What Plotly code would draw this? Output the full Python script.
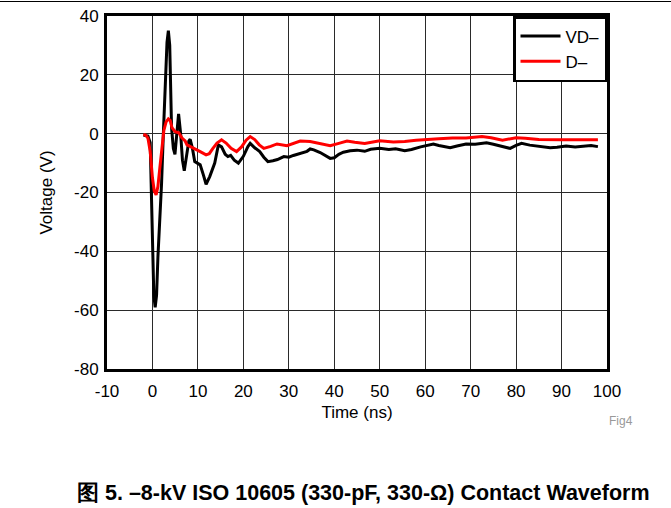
import plotly.graph_objects as go

# VD- (black)
t_vd = [-2.0, -1.0, -0.5, -0.2, 0.0, 0.3, 0.6, 0.9, 1.2, 1.6, 2.0, 2.4, 2.8, 3.2, 3.5, 3.8,
        4.2, 4.6, 4.95, 5.3, 5.75, 6.2, 6.6, 7.0, 7.5, 8.0, 8.3, 8.8, 9.3, 10.0, 10.5, 11.2,
        11.8, 12.6, 13.7, 14.5, 15.2, 16.0, 16.6, 17.2, 18.0, 18.9, 20.0, 21.0, 21.5, 22.5,
        23.6, 24.5, 25.4, 26.5, 27.5, 28.9, 30.0, 31.0, 31.8, 33.0, 34.0, 34.7, 35.5, 36.9,
        38.0, 39.1, 40.0, 41.0, 42.0, 42.8, 43.5, 45.0, 46.7, 48.0, 50.0, 52.0, 53.5, 55.5,
        57.0, 59.0, 60.5, 61.8, 63.0, 65.5, 67.0, 69.0, 71.0, 72.5, 73.5, 75.0, 77.0, 78.7,
        80.0, 81.2, 83.0, 85.0, 87.5, 89.0, 91.0, 93.0, 95.0, 96.5, 98.0]
v_vd = [-0.5, -0.8, -3.0, -20.0, -40.0, -55.0, -59.0, -55.0, -42.0, -31.0, -17.0, 0.0, 18.0, 31.0, 35.0, 30.0,
        2.0, -5.0, -7.0, -1.0, 6.7, 0.0, -9.0, -12.6, -8.0, -2.5, -1.9, -5.0, -9.5, -10.0, -10.6, -14.0,
        -17.2, -14.6, -10.0, -3.8, -4.5, -7.0, -7.8, -7.4, -9.0, -10.0, -7.7, -4.4, -3.3, -4.8,
        -6.1, -8.0, -9.5, -9.2, -8.8, -7.8, -8.0, -7.4, -7.0, -6.6, -6.0, -5.2, -5.5, -6.4,
        -7.5, -8.4, -8.2, -7.0, -6.3, -5.9, -5.8, -5.6, -6.0, -5.3, -5.0, -5.4, -5.1, -5.8,
        -5.4, -4.5, -4.0, -3.5, -4.0, -4.8, -4.2, -3.5, -3.6, -3.3, -3.1, -3.6, -4.5, -5.0,
        -4.0, -3.3, -3.9, -4.3, -4.8, -4.6, -4.2, -4.5, -4.3, -4.0, -4.4]

# D- (red)
t_d = [-2.0, -1.5, -1.0, -0.5, 0.0, 0.4, 0.8, 1.2, 1.6, 2.0, 2.5, 3.0, 3.5, 3.9, 4.3, 5.0,
       5.8, 6.5, 7.2, 7.6, 8.5, 9.5, 10.5, 11.8, 12.5, 13.3, 14.2, 15.2, 16.2, 17.3, 18.5,
       19.6, 20.6, 21.5, 22.5, 23.5, 24.5, 26.0, 27.4, 29.6, 31.0, 32.5, 34.7, 36.5, 39.1,
       41.0, 42.8, 44.5, 46.7, 48.5, 50.0, 53.0, 55.5, 58.0, 60.0, 63.0, 66.0, 69.0, 72.5,
       74.5, 77.0, 80.0, 82.0, 85.0, 90.0, 95.0, 98.0]
v_d = [-0.3, -0.5, -1.5, -6.0, -15.0, -19.5, -20.8, -18.0, -12.0, -5.0, 1.0, 4.0, 5.0, 4.5, 2.0, 0.7,
       0.3, -1.5, -2.5, -3.8, -4.6, -5.3, -6.1, -7.2, -6.8, -5.0, -3.2, -2.1, -3.2, -5.0, -6.1,
       -4.5, -2.2, -1.0, -2.0, -3.8, -5.0, -4.3, -3.5, -4.1, -3.3, -2.5, -2.7, -3.2, -4.1,
       -3.3, -2.5, -2.9, -3.3, -2.8, -2.4, -2.8, -2.7, -2.2, -1.9, -1.7, -1.5, -1.5, -1.0,
       -1.4, -2.2, -1.4, -1.6, -2.0, -2.1, -2.1, -2.1]

x_ticks = [-10, 0, 10, 20, 30, 40, 50, 60, 70, 80, 90, 100]
y_ticks = [40, 20, 0, -20, -40, -60, -80]

FONT = "Liberation Sans, Arial, sans-serif"

fig = go.Figure()
fig.add_trace(go.Scatter(x=t_vd, y=v_vd, mode="lines", name="VD\u2013",
                         line=dict(color="black", width=3)))
fig.add_trace(go.Scatter(x=t_d, y=v_d, mode="lines", name="D\u2013",
                         line=dict(color="#ff0000", width=3)))

L, R, T, B = 107, 64, 16, 139
W, H = 671, 508
pw = W - L - R
ph = H - T - B

fig.update_layout(
    width=W, height=H,
    margin=dict(l=L, r=R, t=T, b=B, autoexpand=False),
    paper_bgcolor="white", plot_bgcolor="white",
    font=dict(family=FONT, size=17, color="black"),
    showlegend=True,
    legend=dict(x=1, y=1, xanchor="right", yanchor="top",
                bgcolor="white", bordercolor="black", borderwidth=2.5,
                font=dict(size=17), tracegroupgap=0, itemwidth=40),
    xaxis=dict(range=[-10, 100], tickvals=x_ticks, ticktext=[str(v) for v in x_ticks],
               showgrid=True, gridcolor="#2a2a2a", gridwidth=1,
               showline=True, linecolor="black", linewidth=3, mirror=True,
               ticks="", zeroline=False, ticklabelstandoff=5, automargin=False,
               title=dict(text="Time (ns)", standoff=6, font=dict(size=17))),
    yaxis=dict(range=[-80, 40], tickvals=y_ticks, ticktext=[str(v) for v in y_ticks],
               showgrid=True, gridcolor="#2a2a2a", gridwidth=1,
               showline=True, linecolor="black", linewidth=3, mirror=True,
               ticks="", zeroline=False, ticklabelstandoff=2, automargin=False,
               title=dict(text="Voltage (V)", standoff=18, font=dict(size=17))),
)

# top rule across the page
fig.add_shape(type="line", xref="paper", yref="paper",
              x0=-L / pw, x1=(W - L) / pw, y0=1 + (T - 1.5) / ph, y1=1 + (T - 1.5) / ph,
              line=dict(color="black", width=1.2))

fig.add_annotation(text="Fig4", xref="paper", yref="paper",
                   x=(621 - L) / pw, y=-(421 - T - ph) / ph,
                   xanchor="center", yanchor="middle",
                   showarrow=False, font=dict(size=12, color="#999999", family=FONT))

fig.add_annotation(text="<b>图 5. \u20138-kV ISO 10605 (330-pF, 330-\u03a9) Contact Waveform</b>",
                   xref="paper", yref="paper",
                   x=(363 - L) / pw, y=-(493 - T - ph) / ph,
                   xanchor="center", yanchor="middle",
                   showarrow=False, font=dict(size=21.5, color="black", family=FONT))

fig.write_html("out.html")
